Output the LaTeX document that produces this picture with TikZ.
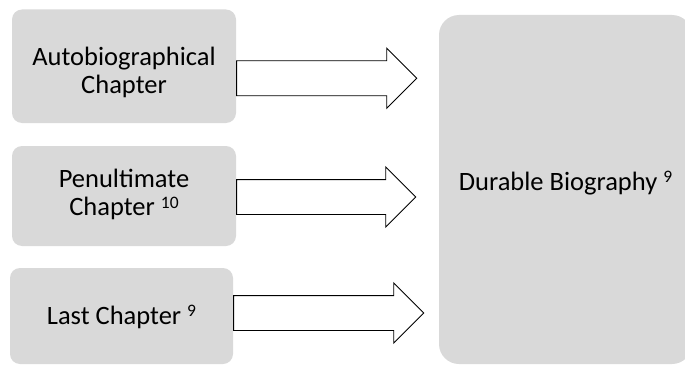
\documentclass[tikz,border=0pt]{standalone}
\usepackage{fontspec}
\setmainfont{Carlito}
\usetikzlibrary{positioning,shapes.arrows}
\definecolor{boxgray}{RGB}{217,217,217}
\newcommand\supnum[1]{\raisebox{7.5pt}{\fontsize{17.5}{17.5}\selectfont #1}}

\begin{document}
\begin{tikzpicture}[x=1pt, y=1pt,
  txt/.style={align=center, font=\fontsize{26.5}{28}\selectfont, inner sep=0pt},
  chap/.style={fill=boxgray, rounded corners=10pt, minimum width=224pt, inner sep=0pt},
  bio/.style={fill=boxgray, rounded corners=20pt, inner sep=0pt},
  blk/.style={shape=single arrow, draw=black, fill=white, line width=0.9pt,
    inner xsep=0pt, inner ysep=17pt, text height=0pt, text depth=0pt,
    single arrow head extend=12.5pt, single arrow tip angle=90, anchor=tail}]
\useasboundingbox (0,0) rectangle (685,365);
% Left: chapters
\node[chap, minimum height=113.5pt,
  label={[txt, yshift=-6pt]center:Autobiographical\\Chapter}] (auto) at (124,298.75) {};
\node[chap, minimum height=100pt,
  label={[txt, yshift=1.5pt]center:Penultimate\\Chapter \supnum{10}}] (penult) at (124,169) {};
\node[chap, minimum height=96pt, minimum width=223pt,
  label={[txt, yshift=-1pt]center:Last Chapter \supnum{9}}] (last) at (121.5,49) {};
% Right: biography
\node[bio, minimum width=253pt, minimum height=349pt,
  label={[txt, yshift=6.5pt]center:Durable Biography \supnum{9}}] (bio) at (565.5,175.5) {};
% Block arrows
\node[blk, minimum height=180pt] (a1) at ([yshift=-12pt]auto.east) {};
\node[blk, minimum height=179pt] (a2) at ([yshift=-1pt]penult.east) {};
\node[blk, minimum height=190pt] (a3) at ([yshift=3pt]last.east) {};
\end{tikzpicture}
\end{document}
